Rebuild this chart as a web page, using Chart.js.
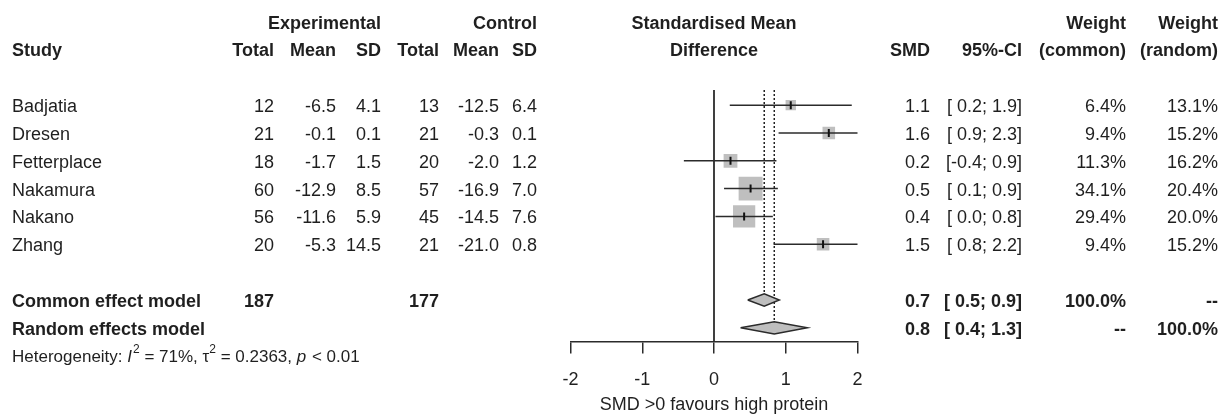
<!DOCTYPE html>
<html>
<head>
<meta charset="utf-8">
<script src="https://cdn.jsdelivr.net/npm/chart.js@4.4.0/dist/chart.umd.min.js"></script>
<style>
  html, body { margin: 0; padding: 0; background: #fff; }
  #wrap { position: relative; width: 1220px; height: 419px; }
</style>
</head>
<body>
<div id="wrap"><canvas id="forestPlot"></canvas></div>
<script>
// study level data
var studies = ["Badjatia", "Dresen", "Fetterplace", "Nakamura", "Nakano", "Zhang"];
var expTotal = [12, 21, 18, 60, 56, 20];
var expMean = [-6.5, -0.1, -1.7, -12.9, -11.6, -5.3];
var expSD = [4.1, 0.1, 1.5, 8.5, 5.9, 14.5];
var ctlTotal = [13, 21, 20, 57, 45, 21];
var ctlMean = [-12.5, -0.3, -2.0, -16.9, -14.5, -21.0];
var ctlSD = [6.4, 0.1, 1.2, 7.0, 7.6, 0.8];
var smd = [1.07, 1.60, 0.23, 0.51, 0.42, 1.52];
var ciLow = [0.22, 0.90, -0.42, 0.14, 0.02, 0.83];
var ciHigh = [1.92, 2.31, 0.87, 0.89, 0.82, 2.21];
var weightCommon = [6.4, 9.4, 11.3, 34.1, 29.4, 9.4];
var weightRandom = [13.1, 15.2, 16.2, 20.4, 20.0, 15.2];

// pooled results
var pooledLabels = ["Common effect model", "Random effects model"];
var pooledSmd = [0.70, 0.84];
var pooledLow = [0.47, 0.37];
var pooledHigh = [0.91, 1.30];
var pooledWeightCommon = ["100.0%", "--"];
var pooledWeightRandom = ["--", "100.0%"];

// heterogeneity
var hetI2 = 71;
var hetTau2 = "0.2363";
var hetP = "< 0.01";

var xTicks = [-2, -1, 0, 1, 2];
var xTitle = "SMD >0 favours high protein";

var family = "'Liberation Sans', Arial, sans-serif";
var textCol = "#1f1f1f";
var lineCol = "#2b2b2b";

// row slots (top to bottom)
var pooledRows = [7, 8];
var hetRow = 9;
var topRow = -0.54;
var diamondHalf = 0.22;

function sum(a) { return a.reduce(function (s, v) { return s + v; }, 0); }

var datasets = [];
studies.forEach(function (s, i) {
  datasets.push({
    data: [{ x: ciLow[i], y: i }, { x: ciHigh[i], y: i }],
    showLine: true, borderColor: lineCol, borderWidth: 1.5, pointRadius: 0, order: 2
  });
});
datasets.push({
  data: smd.map(function (v, i) { return { x: v, y: i }; }),
  pointStyle: 'rect',
  pointRadius: weightCommon.map(function (w) { return 4.1 * Math.sqrt(w) / Math.SQRT2; }),
  pointBackgroundColor: '#bfbfbf', pointBorderWidth: 0, order: 3
});
datasets.push({
  data: smd.map(function (v, i) { return { x: v, y: i }; }),
  pointStyle: 'line', pointRotation: 90, pointRadius: 4,
  pointBorderColor: '#111', pointBorderWidth: 2, order: 1
});
pooledSmd.forEach(function (v, k) {
  var r = pooledRows[k];
  datasets.push({
    data: [{ x: pooledLow[k], y: r }, { x: v, y: r - diamondHalf }, { x: pooledHigh[k], y: r },
           { x: v, y: r + diamondHalf }, { x: pooledLow[k], y: r }],
    showLine: true, fill: 'shape', backgroundColor: '#bebebe',
    borderColor: lineCol, borderWidth: 1.5, pointRadius: 0, order: 2
  });
  datasets.push({
    data: [{ x: v, y: topRow }, { x: v, y: r - diamondHalf }],
    showLine: true, borderDash: [2, 2], borderColor: '#222', borderWidth: 1.5, pointRadius: 0, order: 2
  });
});
var yMin = -3.777, yMax = 8.489;
datasets.push({
  data: [{ x: 0, y: topRow }, { x: 0, y: yMax }],
  showLine: true, borderColor: lineCol, borderWidth: 1.8, pointRadius: 0, order: 2
});

function put(ctx, s, x, y, align, bold, size, italic) {
  ctx.font = (italic ? 'italic ' : '') + (bold ? 'bold ' : '') + (size || 18) + 'px ' + family;
  ctx.textAlign = align;
  ctx.textBaseline = 'middle';
  ctx.fillStyle = textCol;
  ctx.fillText(s, x, y);
}

var tablePlugin = {
  id: 'forestTable',
  afterDraw: function (chart) {
    var ctx = chart.ctx;
    var ys = chart.scales.y;
    var area = chart.chartArea;
    var mid = (area.left + area.right) / 2;
    var rowY = function (r) { return ys.getPixelForValue(r) + 2; };
    ctx.save();

    // headers
    put(ctx, "Experimental", 381, rowY(-3), 'right', true);
    put(ctx, "Control", 537, rowY(-3), 'right', true);
    put(ctx, "Standardised Mean", mid, rowY(-3), 'center', true);
    put(ctx, "Weight", 1126, rowY(-3), 'right', true);
    put(ctx, "Weight", 1218, rowY(-3), 'right', true);
    put(ctx, "Study", 12, rowY(-2), 'left', true);
    put(ctx, "Total", 274, rowY(-2), 'right', true);
    put(ctx, "Mean", 336, rowY(-2), 'right', true);
    put(ctx, "SD", 381, rowY(-2), 'right', true);
    put(ctx, "Total", 439, rowY(-2), 'right', true);
    put(ctx, "Mean", 499, rowY(-2), 'right', true);
    put(ctx, "SD", 537, rowY(-2), 'right', true);
    put(ctx, "Difference", mid, rowY(-2), 'center', true);
    put(ctx, "SMD", 930, rowY(-2), 'right', true);
    put(ctx, "95%-CI", 1022, rowY(-2), 'right', true);
    put(ctx, "(common)", 1126, rowY(-2), 'right', true);
    put(ctx, "(random)", 1218, rowY(-2), 'right', true);

    function ci(lo, hi) {
      var f = function (v) { var s = v.toFixed(1); return v < 0 ? s : ' ' + s; };
      return '[' + f(lo) + '; ' + hi.toFixed(1) + ']';
    }

    // study rows
    studies.forEach(function (s, i) {
      var y = rowY(i);
      put(ctx, s, 12, y, 'left');
      put(ctx, String(expTotal[i]), 274, y, 'right');
      put(ctx, expMean[i].toFixed(1), 336, y, 'right');
      put(ctx, expSD[i].toFixed(1), 381, y, 'right');
      put(ctx, String(ctlTotal[i]), 439, y, 'right');
      put(ctx, ctlMean[i].toFixed(1), 499, y, 'right');
      put(ctx, ctlSD[i].toFixed(1), 537, y, 'right');
      put(ctx, smd[i].toFixed(1), 930, y, 'right');
      put(ctx, ci(ciLow[i], ciHigh[i]), 1022, y, 'right');
      put(ctx, weightCommon[i].toFixed(1) + '%', 1126, y, 'right');
      put(ctx, weightRandom[i].toFixed(1) + '%', 1218, y, 'right');
    });

    // pooled rows
    pooledLabels.forEach(function (s, k) {
      var y = rowY(pooledRows[k]);
      put(ctx, s, 12, y, 'left', true);
      if (k === 0) {
        put(ctx, String(sum(expTotal)), 274, y, 'right', true);
        put(ctx, String(sum(ctlTotal)), 439, y, 'right', true);
      }
      put(ctx, pooledSmd[k].toFixed(1), 930, y, 'right', true);
      put(ctx, ci(pooledLow[k], pooledHigh[k]), 1022, y, 'right', true);
      put(ctx, pooledWeightCommon[k], 1126, y, 'right', true);
      put(ctx, pooledWeightRandom[k], 1218, y, 'right', true);
    });

    // heterogeneity line
    var parts = [
      { t: 'Heterogeneity: ' }, { t: 'I', it: true }, { t: '2', sup: true },
      { t: ' = ' + hetI2 + '%, ' }, { t: '\u03c4' }, { t: '2', sup: true },
      { t: ' = ' + hetTau2 + ', ' }, { t: 'p', it: true }, { t: ' ' + hetP }
    ];
    var hx = 12, hy = rowY(hetRow);
    parts.forEach(function (p) {
      var size = p.sup ? 12 : 17;
      var yy = p.sup ? hy - 8 : hy;
      put(ctx, p.t, hx, yy, 'left', false, size, p.it);
      hx += ctx.measureText(p.t).width + (p.it ? 1 : 0);
    });
    ctx.restore();
  }
};

Chart.defaults.font.family = family;
Chart.defaults.color = textCol;

new Chart(document.getElementById('forestPlot'), {
  type: 'scatter',
  data: { datasets: datasets },
  options: {
    responsive: true,
    maintainAspectRatio: false,
    animation: false,
    events: [],
    layout: { autoPadding: false, padding: { left: 570.5, right: 362.5, top: 0, bottom: 0 } },
    plugins: { legend: { display: false }, tooltip: { enabled: false } },
    scales: {
      x: {
        type: 'linear', position: 'bottom', min: -2, max: 2,
        afterBuildTicks: function (s) { s.ticks = xTicks.map(function (v) { return { value: v }; }); },
        grid: { display: true, drawOnChartArea: false, drawTicks: true, tickLength: 12, color: lineCol, lineWidth: 1.5 },
        border: { display: true, color: lineCol, width: 1.5 },
        ticks: { font: { size: 18 }, color: textCol, padding: 16 },
        title: { display: true, text: xTitle, font: { size: 18 }, color: textCol, padding: { top: -12.8, bottom: 3.2 } }
      },
      y: { type: 'linear', display: false, reverse: true, min: yMin, max: yMax }
    }
  },
  plugins: [tablePlugin]
});
</script>
</body>
</html>
